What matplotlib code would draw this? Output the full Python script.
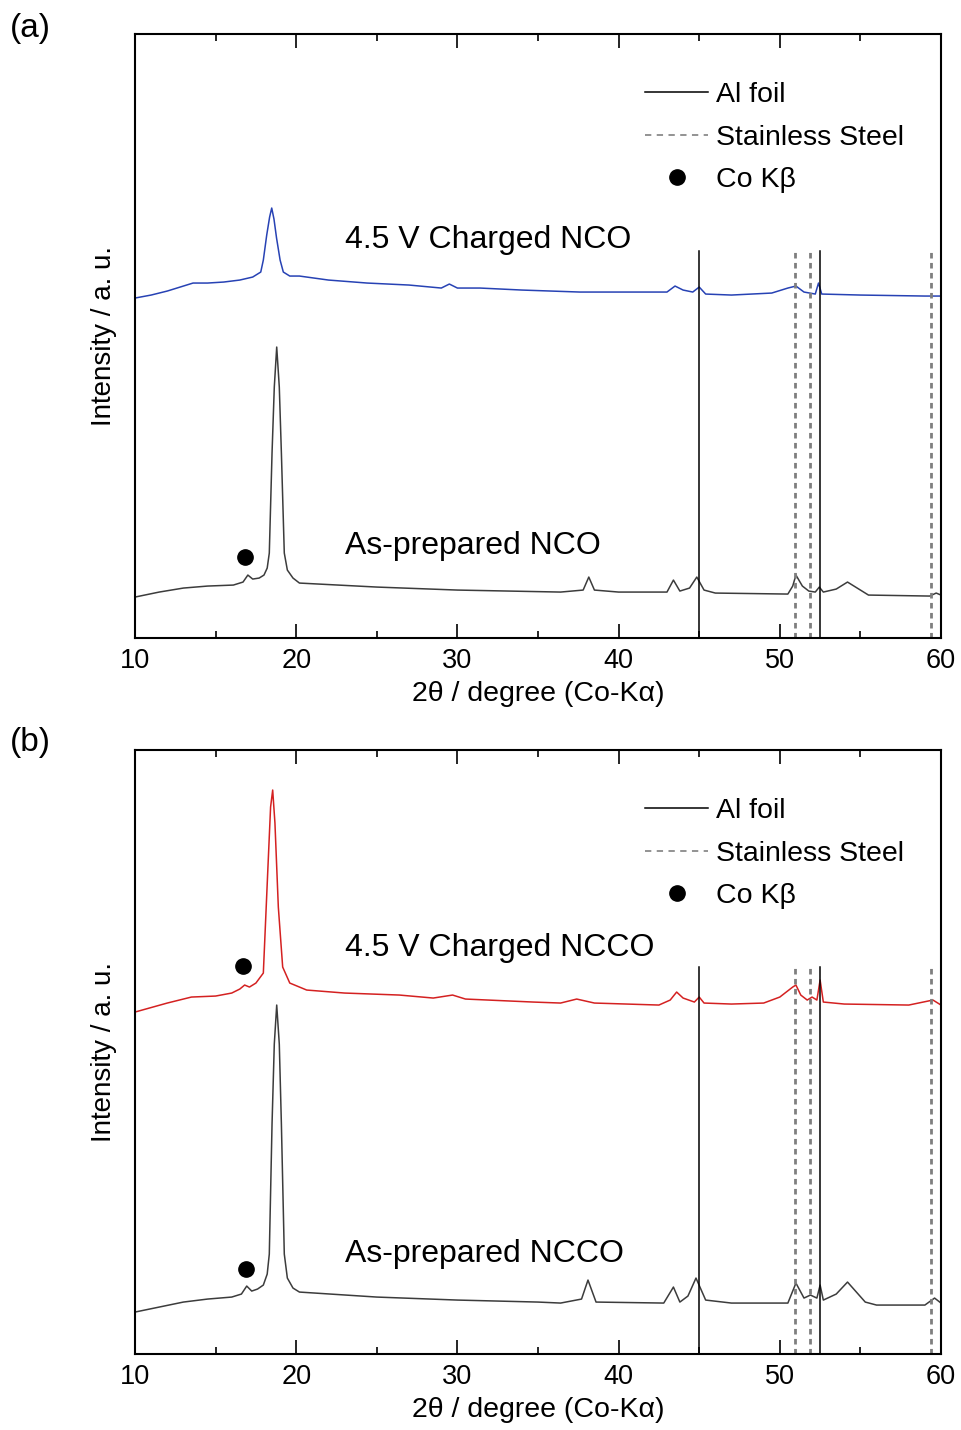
import numpy as np
import matplotlib.pyplot as plt
from matplotlib.lines import Line2D

plt.rcParams['font.family'] = ['Liberation Sans', 'DejaVu Sans']

# ---- data (2theta in degree, intensity in a.u.) ----
nco_charged_x = [10.0, 11.0, 12.0, 13.0, 13.6, 14.5, 15.5, 16.5, 17.3, 17.8, 17.96, 18.17, 18.35,
                 18.48, 18.62, 18.78, 19.0, 19.2, 19.6, 20.2, 22.0, 24.4, 27.0, 29.0, 29.5, 30.0,
                 31.4, 34.0, 37.6, 40.0, 43.0, 43.5, 44.0, 44.6, 45.0, 45.4, 47.0, 49.5, 50.5,
                 51.0, 51.5, 52.2, 52.4, 52.6, 55.0, 59.0, 60.0]
nco_charged_y = [340, 343, 347, 352, 355, 355, 356, 358, 361, 366, 378, 403, 421,
                 430, 419, 400, 378, 366, 362, 362, 358, 355, 353, 350, 354, 350,
                 350, 348, 346, 346, 346, 352, 348, 346, 351, 344, 343, 345, 350,
                 352, 346, 344, 355, 344, 343, 342, 342]

nco_prep_x = [10.0, 11.5, 13.0, 14.5, 16.1, 16.7, 17.0, 17.3, 17.7, 18.0, 18.2, 18.33, 18.5,
              18.64, 18.79, 18.95, 19.08, 19.26, 19.45, 19.8, 20.2, 25.0, 30.0, 36.4, 37.8,
              38.15, 38.5, 40.0, 43.0, 43.4, 43.8, 44.4, 44.85, 45.3, 46.0, 50.5, 50.8, 51.0,
              51.4, 51.8, 52.2, 52.45, 52.7, 53.5, 54.2, 54.8, 55.5, 59.3, 59.7, 60.0]
nco_prep_y = [41, 46, 50, 52, 53, 56, 63, 59, 60, 63, 70, 85, 185,
              251, 291, 251, 185, 85, 68, 60, 55, 51, 48, 46, 48,
              61, 48, 46, 46, 58, 47, 50, 61, 48, 45, 44, 52, 63,
              52, 47, 46, 51, 46, 49, 56, 50, 43, 42, 45, 43]

ncco_charged_x = [10.0, 12.0, 13.5, 15.0, 16.0, 16.5, 16.8, 17.1, 17.5, 17.96, 18.23, 18.41,
                  18.54, 18.68, 18.89, 19.16, 19.6, 20.65, 23.0, 26.4, 28.5, 29.7, 30.5, 34.7,
                  36.4, 37.4, 38.5, 42.5, 43.2, 43.6, 44.0, 44.7, 45.0, 45.3, 47.0, 49.0, 50.0,
                  50.8, 51.0, 51.3, 51.7, 52.0, 52.3, 52.5, 52.7, 54.0, 58.0, 59.5, 60.0]
ncco_charged_y = [342, 351, 357, 358, 361, 365, 369, 367, 371, 381, 481, 547,
                  564, 531, 447, 387, 371, 364, 361, 359, 356, 359, 355, 352,
                  351, 355, 351, 349, 354, 362, 356, 352, 357, 351, 350, 351, 357,
                  367, 369, 359, 354, 357, 354, 374, 352, 350, 349, 354, 349]

ncco_prep_x = [10.0, 11.5, 13.0, 14.5, 16.0, 16.6, 16.93, 17.24, 17.6, 17.96, 18.2, 18.33,
               18.5, 18.64, 18.79, 18.95, 19.08, 19.26, 19.45, 19.8, 20.2, 25.0, 30.0, 35.0,
               36.4, 37.7, 38.1, 38.6, 42.8, 43.4, 43.8, 44.3, 44.8, 45.4, 47.0, 50.5, 51.0,
               51.5, 51.9, 52.3, 52.5, 52.7, 53.5, 54.2, 55.3, 56.0, 59.0, 59.6, 60.0]
ncco_prep_y = [42, 47, 52, 55, 57, 60, 68, 63, 65, 69, 80, 100,
               230, 310, 349, 310, 230, 100, 76, 66, 62, 57, 54, 52,
               51, 55, 74, 52, 51, 67, 52, 58, 76, 54, 51, 51, 71,
               56, 59, 56, 69, 54, 60, 72, 52, 49, 49, 56, 51]

al_foil = [45.0, 52.5]
stainless = [50.95, 51.9, 59.4]

kbeta_a = ([16.82], [81])
kbeta_b = ([16.7, 16.9], [388, 85])

panels = [
    dict(tag='(a)', charged=(nco_charged_x, nco_charged_y), prep=(nco_prep_x, nco_prep_y),
         color='#2742b4', kb=kbeta_a,
         labels=('4.5 V Charged NCO', 'As-prepared NCO'), label_y=(398, 92)),
    dict(tag='(b)', charged=(ncco_charged_x, ncco_charged_y), prep=(ncco_prep_x, ncco_prep_y),
         color='#d42121', kb=kbeta_b,
         labels=('4.5 V Charged NCCO', 'As-prepared NCCO'), label_y=(406, 100)),
]

fig = plt.figure(figsize=(9.61, 14.30), dpi=100)
bottoms = [0.5538, 0.0531]
tag_y = [0.9804, 0.4811]

for p, bottom, ty in zip(panels, bottoms, tag_y):
    ax = fig.add_axes([0.1405, bottom, 0.8387, 0.4224])
    ax.plot(*p['charged'], color=p['color'], lw=1.1)
    ax.plot(*p['prep'], color='#3c3c3c', lw=1.1)

    for x in al_foil:
        ax.axvline(x, ymax=0.64, color='black', lw=1.1)
    for x in stainless:
        ax.axvline(x, ymax=0.64, color='#7f7f7f', lw=2.0, linestyle=(0, (2, 1.6)))

    ax.plot(*p['kb'], 'o', color='black', ms=11)

    ax.text(23.0, p['label_y'][0], p['labels'][0], fontsize=23, va='center')
    ax.text(23.0, p['label_y'][1], p['labels'][1], fontsize=23, va='center')

    handles = [Line2D([], [], color='black', lw=1.1),
               Line2D([], [], color='#8a8a8a', lw=1.3, linestyle=(0, (3.5, 3))),
               Line2D([], [], color='black', marker='o', ms=11, lw=0)]
    ax.legend(handles, ['Al foil', 'Stainless Steel', 'Co K\u03b2'], loc='upper left',
              bbox_to_anchor=(0.633, 0.92), frameon=False, fontsize=20.5,
              handlelength=2.2, handletextpad=0.3, labelspacing=0.58,
              borderpad=0, borderaxespad=0)

    ax.set_xlim(10, 60)
    ax.set_ylim(0, 604)
    ax.set_xticks(np.arange(10, 61, 10))
    ax.set_xticks(np.arange(15, 60, 10), minor=True)
    ax.set_yticks([])
    ax.tick_params(axis='x', which='both', direction='in', top=True, width=1.2,
                   labelsize=19.5, pad=7)
    ax.tick_params(axis='x', which='major', length=10)
    ax.tick_params(axis='x', which='minor', length=5)
    for s in ax.spines.values():
        s.set_linewidth(1.5)

    ax.set_xlabel('2\u03b8 / degree (Co-K\u03b1)', fontsize=20.5, labelpad=5)
    ax.set_ylabel('Intensity / a. u.', fontsize=20, labelpad=13)

    fig.text(0.010, ty, p['tag'], fontsize=24, va='center')

fig.savefig('out.png', dpi=100)
